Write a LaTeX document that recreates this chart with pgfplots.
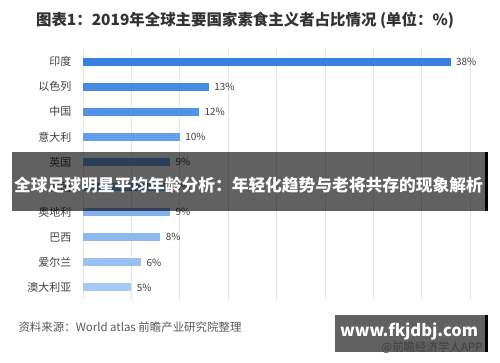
\documentclass[border=0pt]{standalone}
\usepackage{pgfplots}
\pgfplotsset{compat=1.18}
\usepackage{fontspec}
\setmainfont{Noto Sans CJK SC}
\newfontfamily\cjk{Noto Sans CJK SC}
\definecolor{c0}{HTML}{3A80DF}
\definecolor{c1}{HTML}{478AE4}
\definecolor{c2}{HTML}{5393E7}
\definecolor{c3}{HTML}{64A0EA}
\definecolor{c4}{HTML}{74A8EC}
\definecolor{c5}{HTML}{7CAEED}
\definecolor{c6}{HTML}{82B2EE}
\definecolor{c7}{HTML}{8DB9F0}
\definecolor{c8}{HTML}{99C0F1}
\definecolor{c9}{HTML}{A6C8F3}
\definecolor{txt}{HTML}{333333}
\definecolor{lbl}{HTML}{404040}
\begin{document}
\begin{tikzpicture}[x=1bp,y=1bp]
\useasboundingbox (0,0) rectangle (500,362);
\fill[white] (0,0) rectangle (500,362);
\node[font=\cjk\bfseries\fontsize{15.5}{18}\selectfont, text=txt, anchor=center] at (245,342) {图表1：2019年全球主要国家素食主义者占比情况 (单位：\%)};
\begin{axis}[
  at={(83bp,62bp)}, anchor=south west,
  scale only axis, width=387bp, height=251bp,
  xbar, bar width=8bp,
  xmin=0, xmax=40,
  ymin=-0.5, ymax=9.5, y dir=reverse,
  xtick={0,5,...,40}, xticklabels={},
  xmajorgrids, major grid style={draw=black!10, line width=0.6pt},
  ytick={0,...,9},
  yticklabels={印度,以色列,中国,意大利,英国,德国,奥地利,巴西,爱尔兰,澳大利亚},
  yticklabel style={font=\cjk\fontsize{11}{13}\selectfont, text=lbl, xshift=-4bp},
  axis line style={draw=none}, tick style={draw=none},
  /pgf/number format/assume math mode=true,
  nodes near coords={\pgfmathprintnumber{\pgfplotspointmeta}\%},
  nodes near coords style={font=\cjk\fontsize{10}{12}\selectfont, text=lbl, xshift=2bp},
  point meta=x,
]
\addplot[fill=c0, draw=none, bar shift=0pt] coordinates {(38,0)};
\addplot[fill=c1, draw=none, bar shift=0pt] coordinates {(13,1)};
\addplot[fill=c2, draw=none, bar shift=0pt] coordinates {(12,2)};
\addplot[fill=c3, draw=none, bar shift=0pt] coordinates {(10,3)};
\addplot[fill=c4, draw=none, bar shift=0pt] coordinates {(9,4)};
\addplot[fill=c5, draw=none, bar shift=0pt] coordinates {(9,5)};
\addplot[fill=c6, draw=none, bar shift=0pt] coordinates {(9,6)};
\addplot[fill=c7, draw=none, bar shift=0pt] coordinates {(8,7)};
\addplot[fill=c8, draw=none, bar shift=0pt] coordinates {(6,8)};
\addplot[fill=c9, draw=none, bar shift=0pt] coordinates {(5,9)};
\end{axis}
% overlay banner
\fill[black, opacity=0.62] (12,151) rectangle (485,210);
\fill[black] (485,151) rectangle (488,210);
\node[font=\cjk\bfseries\fontsize{16.8}{19}\selectfont, text=white, anchor=center] at (248.5,177) {全球足球明星平均年龄分析：年轻化趋势与老将共存的现象解析};
% source
\node[font=\cjk\fontsize{11.5}{13}\selectfont, text=black!65, anchor=west] at (15,35) {资料来源：World atlas 前瞻产业研究院整理};
% watermark box
\begin{scope}
\clip (335,10) rectangle (488,47);
\fill[black!62] (335,10) rectangle (485,47);
\fill[black] (485,10) rectangle (488,47);
\node[font=\cjk\fontsize{11.5}{13}\selectfont, text=black!75, anchor=east] at (486,14) {@前瞻经济学人APP};
\node[font=\cjk\bfseries\fontsize{16.5}{19}\selectfont, text=white, anchor=center] at (409,31) {www.fkjdbj.com};
\end{scope}
\end{tikzpicture}
\end{document}
